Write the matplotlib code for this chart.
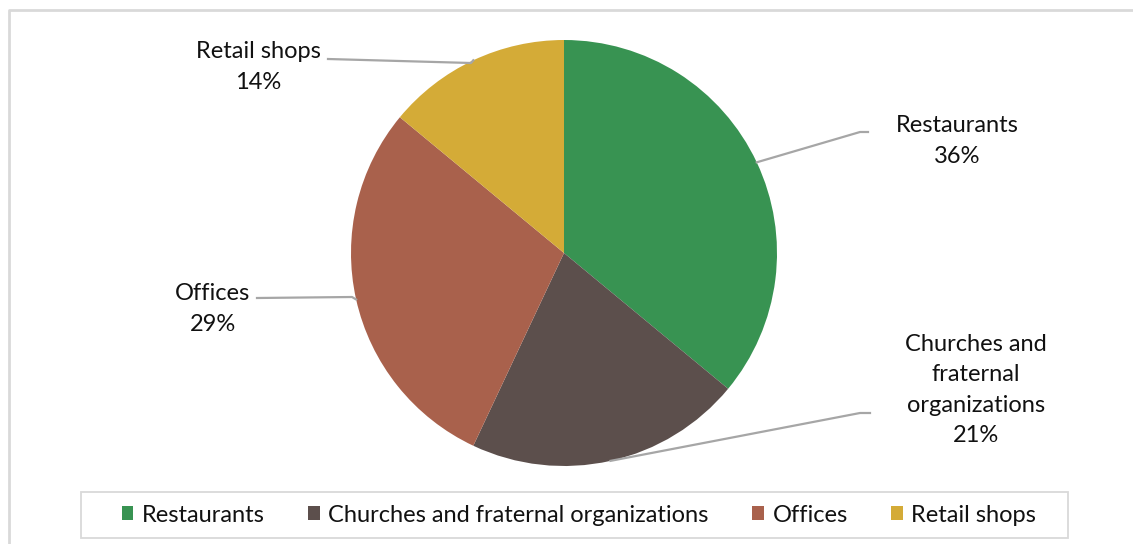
import numpy as np
import matplotlib.pyplot as plt
from matplotlib.patches import Rectangle

# data
categories = ['Restaurants', 'Churches and fraternal organizations', 'Offices', 'Retail shops']
labels = ['Restaurants', 'Churches and\nfraternal\norganizations', 'Offices', 'Retail shops']
shares = [36, 21, 29, 14]
colors = ['#389352', '#5C4F4C', '#A9614C', '#D4AB37']

W, H = 1133, 544
plt.rcParams['font.family'] = ['Lato', 'DejaVu Sans']

fig = plt.figure(figsize=(W / 100, H / 100), dpi=100)
ax = fig.add_axes([0, 0, 1, 1])

# outer chart frame (only top/left visible in the crop)
ax.plot([9, 9, W], [0, H - 10, H - 10], color='#D9D9D9', lw=2, solid_capstyle='butt')

cx, cy, r = 564, H - 253, 213
wedges, _ = ax.pie(shares, colors=colors, startangle=90, counterclock=False,
                   center=(cx, cy), radius=r, frame=True,
                   wedgeprops=dict(linewidth=0))
ax.set_xlim(0, W)
ax.set_ylim(0, H)
ax.set_aspect('equal')
ax.axis('off')

# label text positions (pixels from top) and leader elbows
text_pos = [(957, 141), (976, 390), (213, 309), (258, 67)]
elbows = [[(860, 132), (868, 132)],
          [(860, 413), (870, 413)],
          [(352, 297), (257, 298)],
          [(471, 63), (328, 59)]]

for w, lab, share, (tx, ty), elb in zip(wedges, labels, shares, text_pos, elbows):
    mid = np.deg2rad((w.theta1 + w.theta2) / 2)
    px, py = cx + r * np.cos(mid), cy + r * np.sin(mid)
    xs = [px] + [e[0] for e in elb]
    ys = [py] + [H - e[1] for e in elb]
    ax.plot(xs, ys, color='#A6A6A6', lw=1.6, zorder=3)
    ax.text(tx, H - ty, f'{lab}\n{share}%', ha='center', va='center',
            fontsize=17, color='#111111', linespacing=1.55)

# legend box
ax.add_patch(Rectangle((81, H - 538), 987, 46, fill=False, edgecolor='#D9D9D9', lw=1.3))
leg = ax.legend(wedges, categories, loc='center', bbox_to_anchor=(579, H - 515),
                bbox_transform=ax.transData, ncol=4, frameon=False, fontsize=17,
                handlelength=0.5, handleheight=0.5, handletextpad=0.35,
                columnspacing=1.85, borderpad=0)
for t in leg.get_texts():
    t.set_color('#111111')

fig.savefig('out.png', dpi=100)
